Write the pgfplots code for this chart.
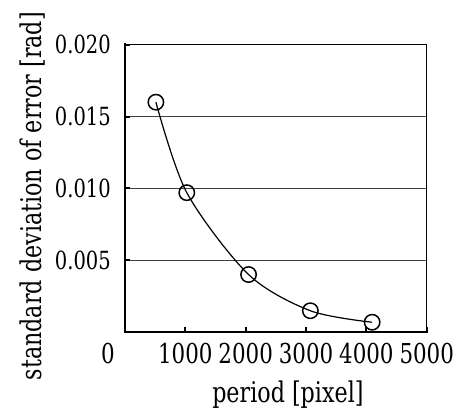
\documentclass[border=0pt]{standalone}
\usepackage{fontspec}
\setmainfont{DejaVu Serif}[FakeStretch=0.78]
\usepackage{pgfplots}
\pgfplotsset{compat=1.18}
\begin{document}
\begin{tikzpicture}
% frame with the reference's margins (1pt = 1px)
\path (-125pt,-84pt) rectangle (335pt,332pt);
\begin{axis}[
  at={(0pt,0pt)}, anchor=south west,
  scale only axis, width=301.7pt, height=287.3pt,
  xmin=0, xmax=5000, ymin=0, ymax=0.02,
  scaled y ticks=false,
  clip=false,
  axis line style={line width=1.3pt},
  tick align=inside, tick pos=left,
  major tick length=5pt,
  every tick/.style={line width=2pt, black},
  ymajorgrids, grid style={line width=0.7pt, black!75},
  xtick={1000,2000,3000,4000,5000},
  xticklabels={1000,2000,3000,4000,5000},
  extra x ticks={0}, extra x tick labels={0},
  extra x tick style={major tick length=0pt, xticklabel style={xshift=-17pt}},
  ytick={0.005,0.010,0.015,0.020},
  yticklabels={0.005,0.010,0.015,0.020},
  xticklabel style={font=\fontsize{27.4}{29}\selectfont, anchor=base, inner sep=0pt, yshift=-31pt},
  yticklabel style={font=\fontsize{25}{27}\selectfont, anchor=east, inner sep=0pt, xshift=-14pt},
  xlabel={period [pixel]},
  ylabel={standard deviation of error [rad]},
  every axis x label/.style={at={(axis description cs:0.54,-0.2471)}, anchor=base, font=\fontsize{28.5}{30}\selectfont},
  every axis y label/.style={at={(axis description cs:-0.2784,0.473)}, rotate=90, anchor=base, font=\fontsize{28.5}{30}\selectfont},
]
\addplot[smooth, line width=1.2pt, black,
  mark=o, mark size=7.7pt,
  mark options={line width=1.5pt, fill=white, draw=black}]
  coordinates {(512,0.0160) (1024,0.0097) (2048,0.0040) (3072,0.00148) (4096,0.00068)};
\draw[line width=2.7pt, line cap=rect] (rel axis cs:0,1) -- (rel axis cs:0,0) -- (rel axis cs:1,0);
\end{axis}
\end{tikzpicture}
\end{document}
